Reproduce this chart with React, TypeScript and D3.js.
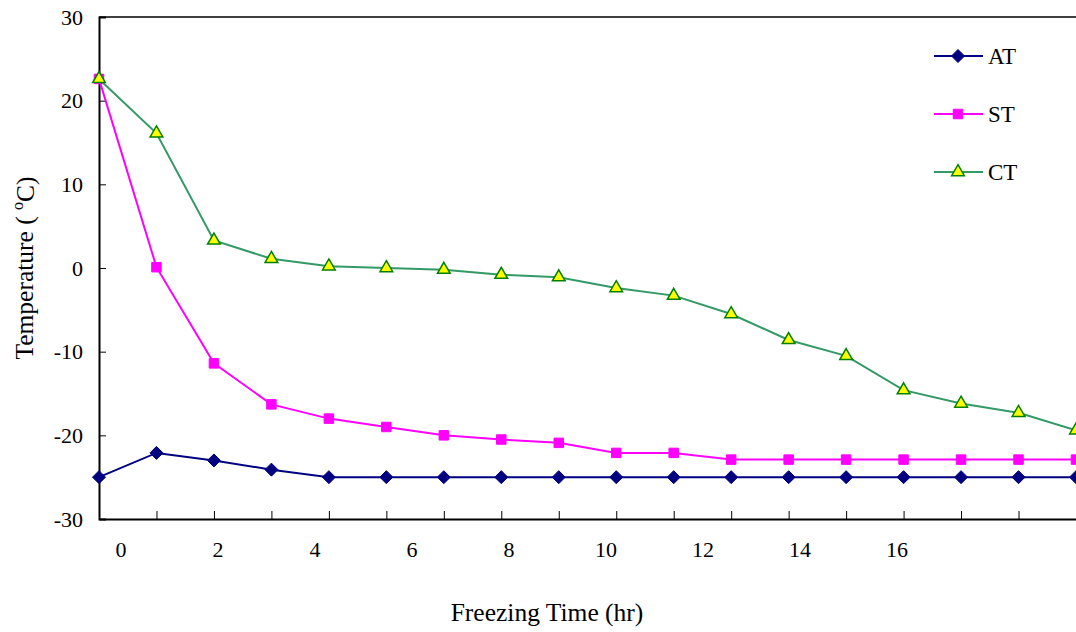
import React, { useEffect, useRef } from "react";
import * as d3 from "d3";

// readings, one per sample (category axis)
const samples = d3.range(18);
const AT = [-25, -22.1, -23, -24.1, -25, -25, -25, -25, -25, -25, -25, -25, -25, -25, -25, -25, -25, -25];
const ST = [22.6, 0.1, -11.4, -16.3, -18, -19, -20, -20.5, -20.9, -22.1, -22.1, -22.9, -22.9, -22.9, -22.9, -22.9, -22.9, -22.9];
const CT = [22.6, 16.1, 3.3, 1.1, 0.2, 0, -0.2, -0.8, -1.1, -2.4, -3.3, -5.5, -8.6, -10.5, -14.6, -16.2, -17.3, -19.4];
const hourLabels = [0, 2, 4, 6, 8, 10, 12, 14, 16];
const yTicks = [-30, -20, -10, 0, 10, 20, 30];

const W = 1076;
const H = 632;
const FONT = "'Liberation Serif', 'Times New Roman', serif";

const series = [
  { name: "AT", values: AT, line: "#000080", fill: "#000080", stroke: "#000080", shape: "diamond" },
  { name: "ST", values: ST, line: "#ff00ff", fill: "#ff00ff", stroke: "#ff00ff", shape: "square" },
  { name: "CT", values: CT, line: "#339966", fill: "#ffff00", stroke: "#008000", shape: "triangle" },
];

const App = () => {
  const ref = useRef<SVGSVGElement>(null);

  useEffect(() => {
    const svg = d3.select(ref.current);
    svg.selectAll("*").remove();

    const left = 99, right = 1076, top = 17, bottom = 519;

    const x = d3.scaleLinear().domain([0, 17]).range([left, right]);
    const hx = d3.scaleLinear().domain([0, 16]).range([121, 897]);
    const y = d3.scaleLinear().domain([-30, 30]).range([bottom, top]);

    const symbol = (shape: string) => {
      if (shape === "diamond") return "M0,-6.5L6.5,0L0,6.5L-6.5,0Z";
      if (shape === "square") return d3.symbol(d3.symbolSquare, 90)();
      return d3.symbol(d3.symbolTriangle, 70)();
    };

    svg.attr("font-family", FONT);

    // frame
    svg.append("line").attr("x1", left).attr("x2", right).attr("y1", top).attr("y2", top)
      .attr("stroke", "#000").attr("stroke-width", 1.5);

    // Y axis
    const gy = svg.append("g").attr("transform", `translate(${left},0)`)
      .call(d3.axisRight(y).tickValues(yTicks).tickSize(7).tickFormat(() => ""));
    gy.select(".domain").attr("stroke-width", 2);
    svg.append("g").selectAll("text").data(yTicks).join("text")
      .attr("x", 83).attr("y", d => y(d)).attr("dy", "0.35em")
      .attr("text-anchor", "end").attr("font-family", FONT).attr("font-size", 22)
      .text(d => d);

    // X axis (tick per sample, labels on hour scale)
    const gx = svg.append("g").attr("transform", `translate(0,${bottom})`)
      .call(d3.axisTop(x).tickValues(samples.slice(1, 17)).tickSize(8).tickFormat(() => "").tickSizeOuter(0));
    gx.select(".domain").attr("stroke-width", 2);
    svg.append("g").selectAll("text").data(hourLabels).join("text")
      .attr("x", d => hx(d)).attr("y", 549).attr("dy", "0.35em")
      .attr("text-anchor", "middle").attr("font-family", FONT).attr("font-size", 22)
      .text(d => d);

    // Lines + markers
    series.forEach(s => {
      const line = d3.line<number>().x((_, i) => x(i)).y(d => y(d));
      svg.append("path").datum(s.values).attr("d", line)
        .attr("fill", "none").attr("stroke", s.line).attr("stroke-width", 2);
      svg.append("g").selectAll("path").data(s.values).join("path")
        .attr("transform", (d, i) => `translate(${x(i)},${y(d)})`)
        .attr("d", symbol(s.shape))
        .attr("fill", s.fill).attr("stroke", s.stroke).attr("stroke-width", s.shape === "triangle" ? 1.5 : 1);
    });

    // Legend
    const lg = svg.append("g");
    series.forEach((s, i) => {
      const ly = 56 + i * 58;
      lg.append("line").attr("x1", 934).attr("x2", 983).attr("y1", ly).attr("y2", ly)
        .attr("stroke", s.line).attr("stroke-width", 2);
      lg.append("path").attr("transform", `translate(958,${ly})`).attr("d", symbol(s.shape))
        .attr("fill", s.fill).attr("stroke", s.stroke).attr("stroke-width", s.shape === "triangle" ? 1.5 : 1);
      lg.append("text").attr("x", 988).attr("y", ly).attr("dy", "0.35em")
        .attr("font-family", FONT).attr("font-size", 23).text(s.name);
    });

    // Axis titles
    svg.append("text").attr("x", 547).attr("y", 612).attr("dy", "0.35em")
      .attr("text-anchor", "middle").attr("font-family", FONT).attr("font-size", 25.5)
      .text("Freezing Time (hr)");
    const yt = svg.append("text").attr("transform", "translate(24,268) rotate(-90)")
      .attr("text-anchor", "middle").attr("dy", "0.35em")
      .attr("font-family", FONT).attr("font-size", 25.5);
    yt.append("tspan").text("Temperature ( ");
    yt.append("tspan").attr("font-size", 16).attr("dy", "-0.6em").text("o");
    yt.append("tspan").attr("dy", "0.4em").text("C)");
  }, []);

  return (
    <svg ref={ref} width={W} height={H}
      style={{ position: "absolute", left: 0, top: 0, background: "#fff" }} />
  );
};

export default App;
